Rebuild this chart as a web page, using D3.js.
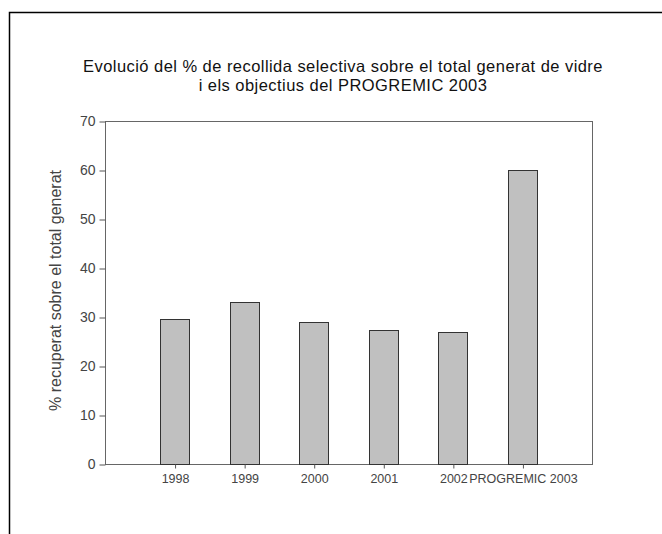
<!DOCTYPE html>
<html>
<head>
<meta charset="utf-8">
<script src="https://cdn.jsdelivr.net/npm/d3@7"></script>
<style>
  body { margin: 0; background: #fff; }
  svg { display: block; font-family: "Liberation Sans", Arial, sans-serif; }
</style>
</head>
<body>
<div id="chart"></div>
<script>
const categories = ['1998', '1999', '2000', '2001', '2002', 'PROGREMIC 2003'];
const values = [29.5, 33.0, 29.0, 27.3, 26.9, 60];
const yTicks = [0, 10, 20, 30, 40, 50, 60, 70];
const titleLines = ['Evolució del % de recollida selectiva sobre el total generat de vidre',
  'i els objectius del PROGREMIC 2003'];
const yLabel = '% recuperat sobre el total generat';

const width = 662;
const height = 534;
const plot = {left: 105, right: 592, top: 121, bottom: 464};
const barWidth = 29;

const svg = d3.select('#chart')
  .append('svg')
  .attr('width', width)
  .attr('height', height);

// outer frame, only left and top edges fall inside the picture
svg.append('rect')
  .attr('x', 9.5)
  .attr('y', 12.5)
  .attr('width', width)
  .attr('height', height)
  .attr('fill', 'none')
  .attr('stroke', '#000')
  .attr('stroke-width', 1.5);

const x = d3.scaleLinear()
  .domain([0, categories.length + 1])
  .range([plot.left, plot.right]);

const y = d3.scaleLinear()
  .domain([0, 70])
  .range([plot.bottom, plot.top]);

// plot box
svg.append('rect')
  .attr('x', plot.left + 0.5)
  .attr('y', plot.top + 0.5)
  .attr('width', plot.right - plot.left)
  .attr('height', plot.bottom - plot.top)
  .attr('fill', 'none')
  .attr('stroke', '#666');

svg.selectAll('.bar')
  .data(values)
  .enter()
  .append('rect')
  .attr('class', 'bar')
  .attr('x', function(d, i) { return Math.round(x(i + 1) - barWidth / 2) + 0.5; })
  .attr('y', function(d) { return Math.round(y(d)) + 0.5; })
  .attr('width', barWidth)
  .attr('height', function(d) { return Math.round(y(0)) - Math.round(y(d)); })
  .attr('fill', '#c0c0c0')
  .attr('stroke', '#333');

const yAxis = d3.axisLeft(y)
  .tickValues(yTicks)
  .tickSize(6)
  .tickPadding(4);

svg.append('g')
  .attr('transform', 'translate(' + (plot.left + 0.5) + ',0.5)')
  .call(yAxis)
  .call(function(g) { g.select('.domain').remove(); });

const xAxis = d3.axisBottom(x)
  .tickValues(categories.map(function(d, i) { return i + 1; }))
  .tickFormat(function(d) { return categories[d - 1]; })
  .tickSize(4)
  .tickPadding(6);

const xg = svg.append('g')
  .attr('transform', 'translate(0.5,' + (plot.bottom + 0.5) + ')')
  .call(xAxis)
  .call(function(g) { g.select('.domain').remove(); });

svg.selectAll('.tick line').attr('stroke', '#555');
svg.selectAll('.tick text')
  .attr('fill', '#444')
  .attr('font-size', 14)
  .attr('font-family', '"Liberation Sans", Arial, sans-serif');

// bottom labels are a little smaller so 2002 and PROGREMIC 2003 just touch
xg.selectAll('.tick text').attr('font-size', 12.5);

svg.append('text')
  .attr('transform', 'translate(61,' + ((plot.top + plot.bottom) / 2 - 2) + ') rotate(-90)')
  .attr('text-anchor', 'middle')
  .attr('font-size', 16)
  .attr('fill', '#444')
  .text(yLabel);

svg.selectAll('.title')
  .data(titleLines)
  .enter()
  .append('text')
  .attr('class', 'title')
  .attr('x', 343)
  .attr('y', function(d, i) { return 72 + i * 19; })
  .attr('text-anchor', 'middle')
  .attr('font-size', 16.5)
  .attr('letter-spacing', 0.45)
  .attr('fill', '#111')
  .text(function(d) { return d; });
</script>
</body>
</html>
